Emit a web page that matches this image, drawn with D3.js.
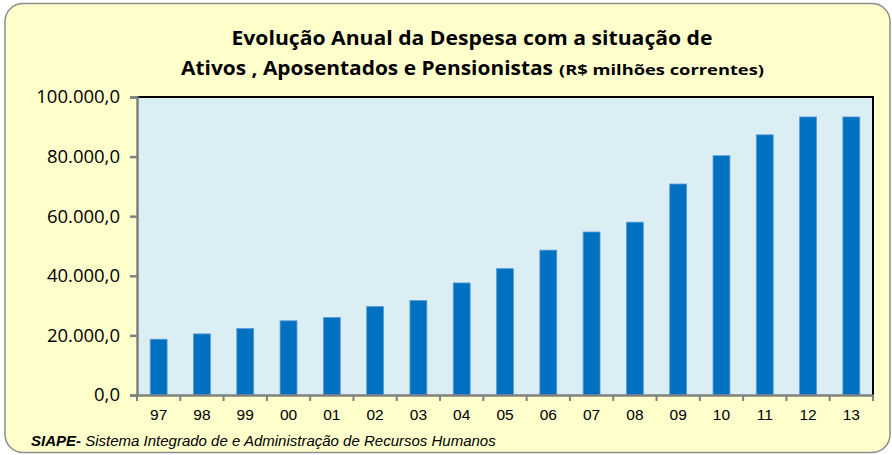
<!DOCTYPE html>
<meta charset="utf-8">
<style>
    body { margin: 0; background: #fff; }
    .ytick text { font-family: "Open Sans", sans-serif; font-size: 18.5px; fill: #000; }
    .xtick text { font-family: "Liberation Sans", Arial, sans-serif; font-size: 15.5px; fill: #000; }
</style>
<body>
<script src="https://d3js.org/d3.v7.min.js"></script>
<script>
    // data (R$ milhões)
    var years = ["97", "98", "99", "00", "01", "02", "03", "04", "05", "06", "07", "08", "09", "10", "11", "12", "13"];
    var despesa = [18700, 20500, 22300, 24900, 26000, 29700, 31700, 37600, 42400, 48600, 54700, 58000, 70800, 80300, 87300, 93300, 93300];
    var yTicks = [0, 20000, 40000, 60000, 80000, 100000];

    var W = 892, H = 455;
    var margin = { top: 97, right: 19, bottom: 60, left: 137 },
        width = W - margin.left - margin.right,
        height = H - margin.top - margin.bottom;

    var svg = d3.select("body").append("svg")
        .attr("width", W)
        .attr("height", H);

    // outer frame
    svg.append("rect")
        .attr("x", 5).attr("y", 3.5)
        .attr("width", 885).attr("height", 449)
        .attr("rx", 18).attr("ry", 18)
        .attr("fill", "#FFFFCC")
        .attr("stroke", "#8c8c8c")
        .attr("stroke-width", 1.5);

    // title
    svg.append("text")
        .attr("x", 472).attr("y", 45)
        .attr("text-anchor", "middle")
        .attr("font-family", "'Open Sans', sans-serif")
        .attr("font-weight", "bold")
        .attr("font-size", "20px")
        .attr("textLength", 481)
        .attr("lengthAdjust", "spacingAndGlyphs")
        .text("Evolução Anual da Despesa com a situação de");

    var t2 = svg.append("text")
        .attr("x", 181).attr("y", 75)
        .attr("font-family", "'Open Sans', sans-serif")
        .attr("font-weight", "bold");
    t2.append("tspan")
        .attr("font-size", "20px")
        .attr("textLength", 372)
        .attr("lengthAdjust", "spacingAndGlyphs")
        .text("Ativos , Aposentados e Pensionistas");
    t2.append("tspan")
        .attr("x", 559)
        .attr("font-size", "15px")
        .attr("textLength", 205)
        .attr("lengthAdjust", "spacingAndGlyphs")
        .text("(R$ milhões correntes)");

    var g = svg.append("g")
        .attr("transform", "translate(" + margin.left + "," + margin.top + ")");

    var x = d3.scaleBand().domain(years).range([0, width]).paddingInner(0.61).paddingOuter(0.305);
    var xb = d3.scaleBand().domain(years).range([0, width]);
    var y = d3.scaleLinear().domain([0, 100000]).range([height, 0]);

    // plot background
    g.append("rect")
        .attr("width", width).attr("height", height)
        .attr("fill", "#DAEEF3");

    // bars
    g.selectAll(".bar")
        .data(despesa)
        .enter().append("rect")
        .attr("class", "bar")
        .attr("x", function (d, i) { return x(years[i]); })
        .attr("y", function (d) { return y(d); })
        .attr("width", x.bandwidth())
        .attr("height", function (d) { return height - y(d); })
        .attr("fill", "#0070C0")
        .attr("stroke", "#5B9BD5")
        .attr("stroke-width", 0.8);

    // top and right border
    g.append("path")
        .attr("d", "M0,0H" + width + "V" + height)
        .attr("fill", "none")
        .attr("stroke", "#000")
        .attr("stroke-width", 2);

    // y axis
    var yAxis = g.append("g")
        .attr("class", "ytick")
        .call(d3.axisLeft(y).tickValues(yTicks).tickSize(7).tickPadding(10)
            .tickFormat(function (d) { return d3.format(",.1f")(d).replace(/,/g, ".").replace(/\.(\d)$/, ",$1"); }));
    yAxis.select(".domain").attr("stroke", "#808080").attr("stroke-width", 2.5);
    yAxis.selectAll(".tick line").attr("stroke", "#808080").attr("stroke-width", 2.5);

    // x axis: ticks at category boundaries
    var xAxis = g.append("g")
        .attr("class", "xtick")
        .attr("transform", "translate(0," + height + ")")
        .call(d3.axisBottom(x).tickSize(0).tickPadding(14));
    xAxis.select(".domain").attr("stroke", "#808080").attr("stroke-width", 2.5);
    xAxis.selectAll(".bnd")
        .data(years.concat([null]))
        .enter().append("line")
        .attr("class", "bnd")
        .attr("x1", function (d, i) { return i * xb.bandwidth(); })
        .attr("x2", function (d, i) { return i * xb.bandwidth(); })
        .attr("y1", 0).attr("y2", 6)
        .attr("stroke", "#808080")
        .attr("stroke-width", 2);

    // footer
    var f = svg.append("text")
        .attr("x", 31).attr("y", 446)
        .attr("font-family", "'Liberation Sans', Arial, sans-serif")
        .attr("font-size", "15px")
        .attr("font-style", "italic");
    f.append("tspan").attr("font-weight", "bold").text("SIAPE-");
    f.append("tspan").text(" Sistema Integrado de e Administração de Recursos Humanos");
</script>
</body>
